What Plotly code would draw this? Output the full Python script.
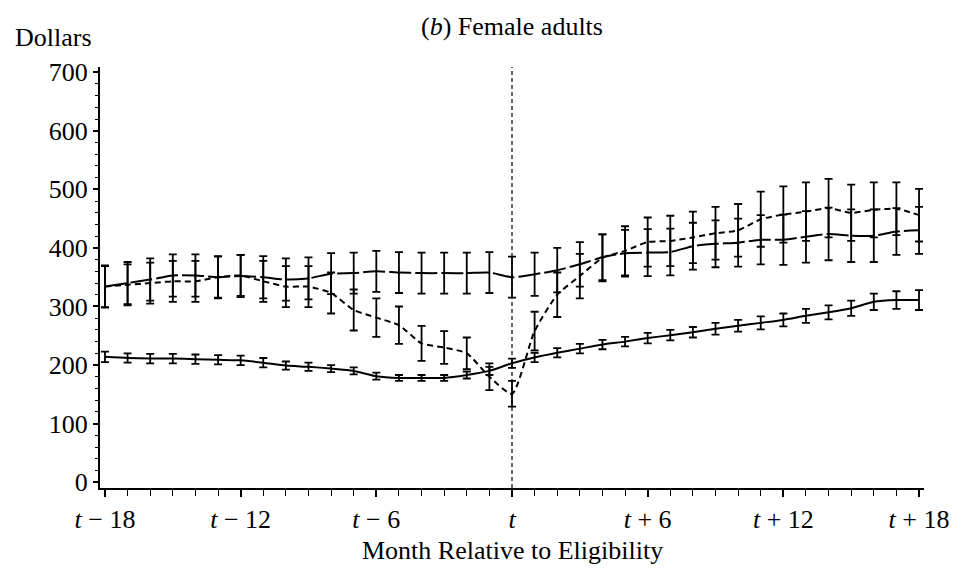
import plotly.graph_objects as go

months = list(range(-18, 19))

# Solid (lower) series
low_vals = [214, 212, 211, 211, 210, 209, 208, 204, 199, 197, 194, 190, 181, 178, 178, 178, 183, 190, 203,
            213, 221, 228, 235, 240, 246, 251, 256, 262, 267, 272, 277, 284, 290, 297, 308, 311, 311]
low_err = [9, 8, 8, 8, 8, 8, 8, 8, 7, 7, 6, 6, 6, 5, 5, 5, 6, 7, 8,
           8, 8, 8, 8, 8, 9, 9, 9, 10, 10, 11, 11, 12, 12, 13, 14, 15, 17]

# Long-dash (upper) series
long_vals = [334, 340, 346, 353, 353, 350, 352, 350, 346, 348, 356, 357, 360, 358, 357, 357, 357, 358, 350,
             355, 362, 372, 384, 391, 392, 393, 403, 407, 409, 414, 414, 419, 424, 421, 421, 428, 430]
long_err = [36, 36, 36, 36, 36, 36, 36, 36, 36, 36, 35, 35, 35, 35, 35, 35, 35, 35, 35,
            37, 38, 38, 39, 40, 40, 40, 40, 40, 41, 42, 43, 44, 45, 45, 45, 40, 40]

# Short-dash series
short_vals = [334, 337, 340, 343, 343, 350, 353, 343, 334, 334, 323, 294, 281, 268, 237, 230, 220, 180, 151,
              258, 320, 352, 383, 395, 410, 412, 418, 425, 430, 449, 457, 462, 468, 460, 465, 467, 456]
short_err = [35, 35, 35, 35, 35, 35, 35, 35, 35, 35, 35, 35, 33, 32, 30, 28, 27, 23, 22,
             33, 38, 38, 40, 42, 42, 43, 44, 45, 45, 47, 48, 50, 50, 48, 47, 45, 45]

x_tickvals = [-18, -12, -6, 0, 6, 12, 18]
x_ticktext = ["<i>t</i> − 18", "<i>t</i> − 12", "<i>t</i> − 6", "<i>t</i>",
              "<i>t</i> + 6", "<i>t</i> + 12", "<i>t</i> + 18"]
y_tickvals = [0, 100, 200, 300, 400, 500, 600, 700]

FONT = "Liberation Serif, Times New Roman, serif"
FS = 26

fig = go.Figure()


def add_series(vals, errs, dash):
    fig.add_trace(go.Scatter(
        x=months, y=vals, mode="lines",
        line=dict(color="black", width=2, dash=dash, shape="spline", smoothing=0.6),
        error_y=dict(type="data", array=errs, visible=True, color="black",
                     thickness=1.8, width=4),
        showlegend=False, hoverinfo="skip",
    ))


add_series(low_vals, low_err, "solid")
add_series(long_vals, long_err, "22px,4px")
add_series(short_vals, short_err, "6px,4px")

fig.add_shape(type="line", xref="x", yref="paper", x0=0, x1=0, y0=0, y1=1.0,
              line=dict(color="black", width=1.2, dash="4px,3px"))

# The page body has an 8px default margin, so the figure is sized/placed to compensate.
fig.update_layout(
    width=953, height=560,
    margin=dict(l=92, r=31, t=59, b=80),
    paper_bgcolor="white", plot_bgcolor="white",
    font=dict(family=FONT, size=FS, color="black"),
    showlegend=False,
    xaxis=dict(
        range=[-18.22, 18.22], tickmode="array", tickvals=x_tickvals, ticktext=x_ticktext,
        ticks="outside", ticklen=7, tickwidth=1.5, tickcolor="black",
        showline=True, linecolor="black", linewidth=2, showgrid=False, zeroline=False,
        tickfont=dict(family=FONT, size=FS),
        minor=dict(tickmode="linear", tick0=-18, dtick=1, ticks="outside", ticklen=6,
                   tickwidth=1.2, tickcolor="black", showgrid=False),
    ),
    yaxis=dict(
        range=[-10, 709], tickmode="array", tickvals=y_tickvals,
        ticks="outside", ticklen=5, tickwidth=1.5, tickcolor="black",
        showline=True, linecolor="black", linewidth=2, showgrid=False, zeroline=False,
        tickfont=dict(family=FONT, size=FS),
        minor=dict(tickmode="linear", tick0=0, dtick=20, ticks="outside", ticklen=3,
                   tickwidth=1.2, tickcolor="black", showgrid=False),
    ),
    annotations=[
        dict(text="Dollars", xref="paper", yref="paper", x=-0.106, y=1.069,
             xanchor="left", yanchor="middle", showarrow=False,
             font=dict(family=FONT, size=FS, color="black")),
        dict(text="(<i>b</i>) Female adults", xref="paper", yref="paper", x=0.5, y=1.097,
             xanchor="center", yanchor="middle", showarrow=False,
             font=dict(family=FONT, size=FS, color="black")),
        dict(text="Month Relative to Eligibility", xref="paper", yref="paper", x=0.5, y=-0.1496,
             xanchor="center", yanchor="middle", showarrow=False,
             font=dict(family=FONT, size=FS, color="black")),
    ],
)

fig.write_html("out.html")
